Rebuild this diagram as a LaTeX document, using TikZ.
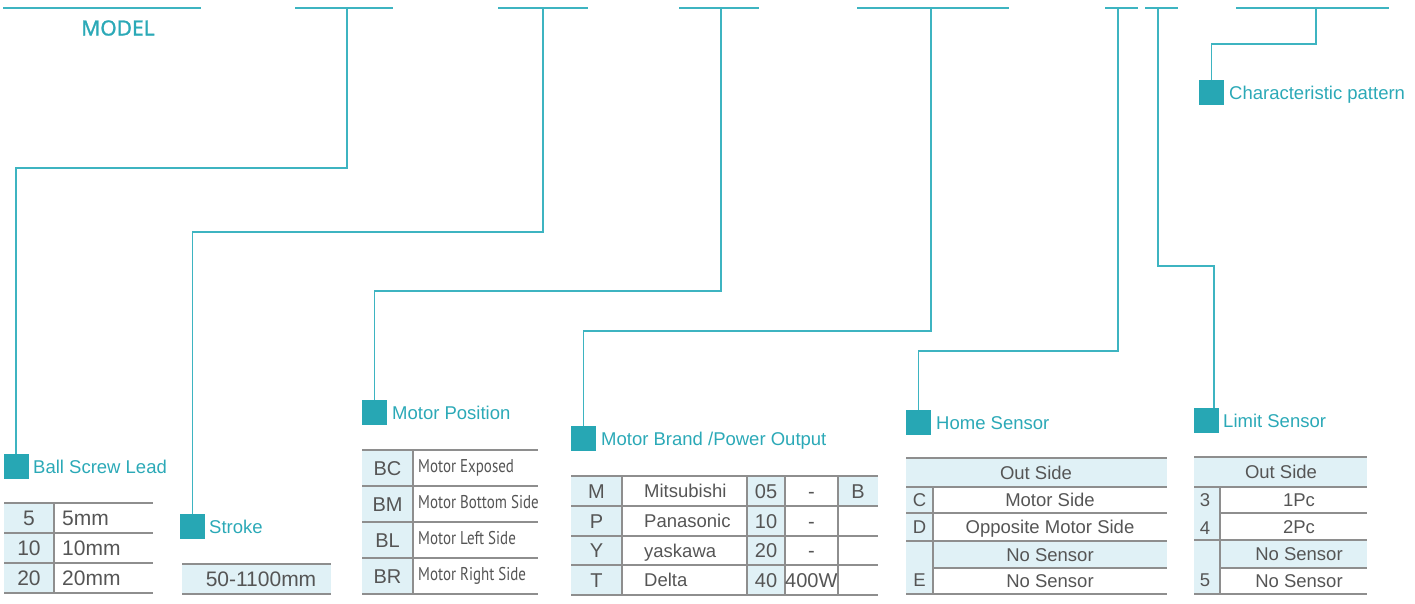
\documentclass[tikz,border=0pt]{standalone}
\usepackage{fontspec}
\newfontfamily\arialf{Liberation Sans}
\newfontfamily\modelf{Noto Sans}[FakeBold=1.2]
\newfontfamily\condf{PT Sans}[FakeStretch=0.81]
\definecolor{tealsq}{HTML}{27A7B4}
\definecolor{tealtxt}{HTML}{2BA9B7}
\definecolor{tealln}{HTML}{3DB4C1}
\definecolor{lightblue}{HTML}{E0F1F6}
\definecolor{gridgray}{HTML}{8E8E8E}
\definecolor{txtgray}{HTML}{555555}
\tikzset{
  topln/.style={draw=tealln, line width=2pt},
  conn/.style={draw=tealln, line width=1.4pt},
  sq/.style={fill=tealsq, minimum size=25pt, inner sep=0pt, draw=none},
  lbl/.style={anchor=base west, inner sep=0pt, text=tealtxt, font=\arialf\fontsize{18.5}{20}\selectfont},
  gl/.style={draw=gridgray, line width=1.5pt},
  fl/.style={fill=lightblue},
  cA/.style={inner sep=0pt, text=txtgray, font=\arialf\fontsize{21}{22}\selectfont, text height=15pt, text depth=0pt},
  cC/.style={inner sep=0pt, text=txtgray, font=\arialf\fontsize{20}{22}\selectfont, text height=14.3pt, text depth=0pt},
  cB/.style={inner sep=0pt, text=txtgray, font=\arialf\fontsize{18.5}{20}\selectfont, text height=13.2pt, text depth=0pt},
  cN/.style={inner sep=0pt, text=txtgray, font=\condf\fontsize{18.5}{20}\selectfont, text height=13pt, text depth=0pt, anchor=west},
}
\begin{document}
\begin{tikzpicture}[x=1pt,y=-1pt]
\useasboundingbox (0,0) rectangle (1415,604);
% ---------- top code lines ----------
\draw[topln] (3,8) -- (201,8);
\node[inner sep=0pt, text=tealtxt, font=\modelf\fontsize{21}{24}\selectfont] (model) at (118,28) {MODEL};
\draw[topln] (295,8) -- (393,8);   \coordinate (t2) at (347,8);
\draw[topln] (498,8) -- (588,8);   \coordinate (t3) at (543,8);
\draw[topln] (679,8) -- (759,8);   \coordinate (t4) at (721,8);
\draw[topln] (857,8) -- (1009,8);  \coordinate (t5) at (931,8);
\draw[topln] (1105,8) -- (1138,8); \coordinate (t6) at (1118,8);
\draw[topln] (1145,8) -- (1178,8); \coordinate (t7) at (1158,8);
\draw[topln] (1236,8) -- (1389,8); \coordinate (t8) at (1316,8);
% ---------- squares and labels ----------
\node[sq] (sqA) at (16,466.5) {};
\node[lbl] (lA) at (33,473.2) {Ball Screw Lead};
\node[sq] (sqB) at (192.5,526.5) {};
\node[lbl] (lB) at (209,533.2) {Stroke};
\node[sq] (sqC) at (374.5,412.5) {};
\node[lbl] (lC) at (392,419.2) {Motor Position};
\node[sq] (sqD) at (583.5,438.5) {};
\node[lbl] (lD) at (601,445.2) {Motor Brand /Power Output};
\node[sq] (sqE) at (918.5,422.5) {};
\node[lbl] (lE) at (936,429.2) {Home Sensor};
\node[sq] (sqF) at (1206.5,420.5) {};
\node[lbl] (lF) at (1223,427.2) {Limit Sensor};
\node[sq] (sqG) at (1211.5,92.5) {};
\node[lbl] (lG) at (1229,99.2) {Characteristic pattern};
% ---------- connectors ----------
\draw[conn] (t2) -- ++(0,160) -| (sqA.north);
\draw[conn] (t3) -- ++(0,224) -| (sqB.north);
\draw[conn] (t4) -- ++(0,283) -| (sqC.north);
\draw[conn] (t5) -- ++(0,323) -| (sqD.north);
\draw[conn] (t6) -- ++(0,343) -| (sqE.north);
\draw[conn] (t7) -- ++(0,258) -| ([xshift=7.5pt]sqF.north);
\draw[conn] (t8) -- ++(0,36) -| (sqG.north);
% ---------- Ball screw lead table ----------
\fill[fl] (4,503) rectangle (54,593);
\foreach \y in {503,533,563,593} \draw[gl] (4,\y) -- (153,\y);
\draw[gl] (54,503) -- (54,593);
\node[cA] (a1) at (29,518) {5};
\node[cA] (a2) at (29,548) {10};
\node[cA] (a3) at (29,578) {20};
\node[cA, anchor=west] (a4) at (62,518) {5mm};
\node[cA, anchor=west] (a5) at (62,548) {10mm};
\node[cA, anchor=west] (a6) at (62,578) {20mm};
% ---------- Stroke table ----------
\fill[fl] (182,564) rectangle (331,594);
\draw[gl] (182,564) -- (331,564);
\draw[gl] (182,594) -- (331,594);
\node[cA] (b1) at (261,579) {50-1100mm};
% ---------- Motor position table ----------
\fill[fl] (362,450) rectangle (413,594);
\foreach \y in {450,486,522,558,594} \draw[gl] (362,\y) -- (538,\y);
\draw[gl] (413,450) -- (413,594);
\node[cC] (c1) at (387.5,468) {BC};
\node[cC] (c2) at (387.5,504) {BM};
\node[cC] (c3) at (387.5,540) {BL};
\node[cC] (c4) at (387.5,576) {BR};
\node[cN] (c5) at (418,466) {Motor Exposed};
\node[cN] (c6) at (418,502) {Motor Bottom Side};
\node[cN] (c7) at (418,538) {Motor Left Side};
\node[cN] (c8) at (418,574) {Motor Right Side};
% ---------- Motor brand table ----------
\fill[fl] (571,476) rectangle (622,595);
\fill[fl] (747,476) rectangle (785,595);
\fill[fl] (838,476) rectangle (878,506);
\foreach \y in {476,506,536,565,595} \draw[gl] (571,\y) -- (878,\y);
\foreach \x in {622,747,785,838} \draw[gl] (\x,476) -- (\x,595);
\node[cC] (d1) at (596.5,491) {M};
\node[cC] (d2) at (596.5,521) {P};
\node[cC] (d3) at (596.5,550.5) {Y};
\node[cC] (d4) at (596.5,580) {T};
\node[cB, anchor=west] (d5) at (644,491) {Mitsubishi};
\node[cB, anchor=west] (d6) at (644,521) {Panasonic};
\node[cB, anchor=west] (d7) at (644,550.5) {yaskawa};
\node[cB, anchor=west] (d8) at (644,580) {Delta};
\node[cC] (d9) at (766,491) {05};
\node[cC] (d10) at (766,521) {10};
\node[cC] (d11) at (766,550.5) {20};
\node[cC] (d12) at (766,580) {40};
\node[cC] (d13) at (811.5,491) {-};
\node[cC] (d14) at (811.5,521) {-};
\node[cC] (d15) at (811.5,550.5) {-};
\node[cC, anchor=west] (d16) at (785,580) {400W};
\node[cC] (d17) at (858,491) {B};
% ---------- Home sensor table ----------
\fill[fl] (906,458) rectangle (1167,487);
\fill[fl] (906,487) rectangle (933,594);
\fill[fl] (933,541) rectangle (1167,568);
\foreach \y in {458,487,513,541,594} \draw[gl] (906,\y) -- (1167,\y);
\draw[gl] (933,568) -- (1167,568);
\draw[gl] (933,487) -- (933,594);
\node[cB] (e1) at (1036,472.5) {Out Side};
\node[cB] (e2) at (1050,500) {Motor Side};
\node[cB] (e3) at (1050,527) {Opposite Motor Side};
\node[cB] (e4) at (1050,554.5) {No Sensor};
\node[cB] (e5) at (1050,581) {No Sensor};
\node[cB] (e6) at (919.5,500) {C};
\node[cB] (e7) at (919.5,527) {D};
\node[cB] (e8) at (919.5,580) {E};
% ---------- Limit sensor table ----------
\fill[fl] (1194,457) rectangle (1367,487);
\fill[fl] (1194,487) rectangle (1220,594);
\fill[fl] (1220,540) rectangle (1367,568);
\foreach \y in {457,487,540,594} \draw[gl] (1194,\y) -- (1367,\y);
\draw[gl] (1220,513) -- (1367,513);
\draw[gl] (1220,568) -- (1367,568);
\draw[gl] (1220,487) -- (1220,594);
\node[cB] (f1) at (1281,472) {Out Side};
\node[cB] (f2) at (1299,500) {1Pc};
\node[cB] (f3) at (1299,526.5) {2Pc};
\node[cB] (f4) at (1299,554) {No Sensor};
\node[cB] (f5) at (1299,581) {No Sensor};
\node[cB] (f6) at (1205,500) {3};
\node[cB] (f7) at (1205,528) {4};
\node[cB] (f8) at (1205,580) {5};
\end{tikzpicture}
\end{document}
